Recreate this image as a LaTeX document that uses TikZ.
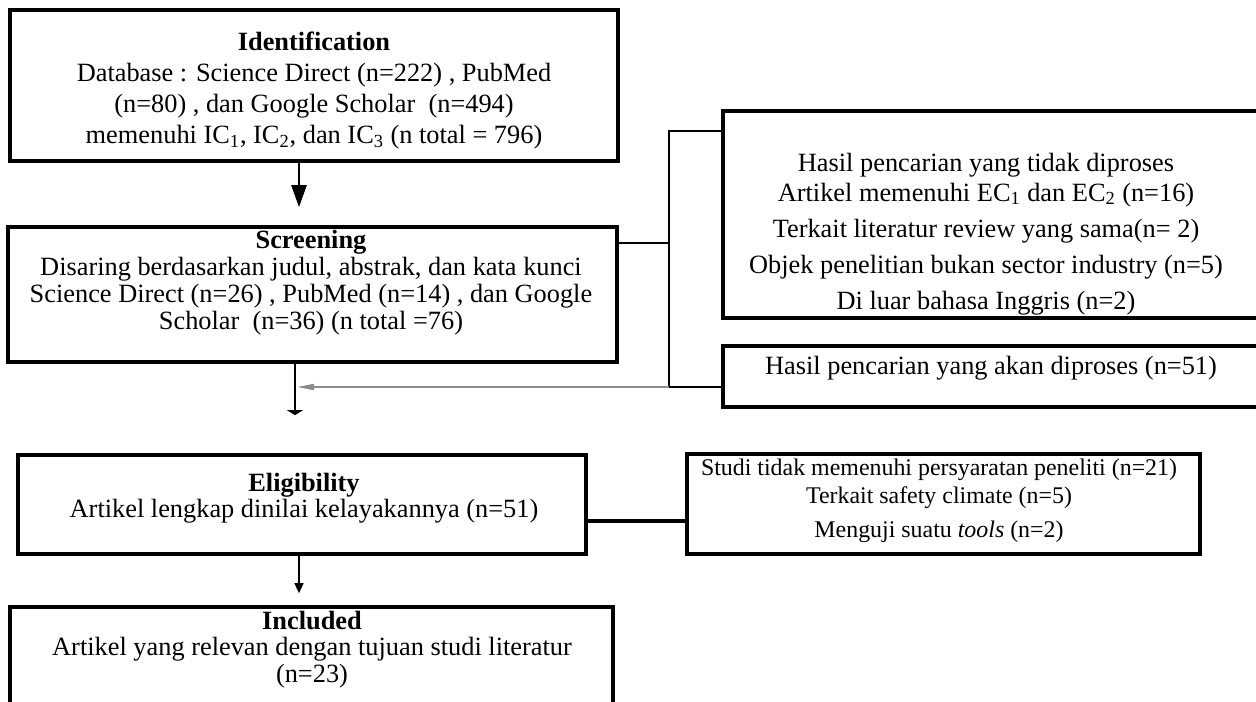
\documentclass[tikz,border=0pt]{standalone}
\usepackage{fontspec}
\setmainfont{Liberation Serif}
\usetikzlibrary{arrows.meta}

\tikzstyle{bk}=[draw,inner sep=0pt,line width=2.1pt]
\tikzstyle{tk}=[align=center,inner sep=0pt,anchor=north,font=\fontsize{15}{17.6}\selectfont]
\tikzstyle{ln}=[line width=1.1pt]
\tikzstyle{gl}=[draw=black!45,line width=1pt]
\def\px{0.02cm}

\begin{document}
\begin{tikzpicture}[x=\px,y=-\px]
			\useasboundingbox (0,0) rectangle (1256,702);
			% kotak utama
			\node[bk,line width=2.4pt,minimum width=608*\px,minimum height=151*\px] (ident) at (314,85.5) {};
			\node[bk,minimum width=609*\px,minimum height=135*\px] (screen) at (312.5,294.5) {};
			\node[bk,minimum width=568*\px,minimum height=99*\px] (elig) at (302,504.5) {};
			\node[bk,minimum width=603*\px,minimum height=130*\px] (incl) at (311.5,672) {};
			% kotak samping
			\node[bk,minimum width=560*\px,minimum height=207*\px] (excl) at (1003,214.5) {};
			\node[bk,minimum width=560*\px,minimum height=61*\px] (proc) at (1003,376.5) {};
			\node[bk,minimum width=513*\px,minimum height=100*\px] (eligx) at (943.5,504) {};
			% teks
			\node[tk] (identtx) at (314,32) {\textbf{Identification}\\
				Database : Science Direct (n=222) , PubMed\\
				(n=80) , dan Google Scholar\ \ (n=494)\\
				memenuhi\ IC\textsubscript{1}, IC\textsubscript{2}, dan IC\textsubscript{3} (n total = 796)};
			\node[tk,font=\fontsize{15}{15.3}\selectfont] (screentx) at (311,230) {\textbf{Screening}\\
				Disaring berdasarkan judul, abstrak, dan kata kunci\\
				Science Direct (n=26) , PubMed (n=14) , dan Google\\
				Scholar\ \ (n=36) (n total =76)};
			\node[tk,font=\fontsize{15}{17}\selectfont] (excltx) at (986,152.5) {Hasil pencarian yang tidak diproses\\
				Artikel memenuhi\ EC\textsubscript{1} dan EC\textsubscript{2} (n=16)\\[3.8pt]
				Terkait literatur review yang sama(n= 2)\\[3.4pt]
				Objek penelitian bukan sector industry (n=5)\\[3.8pt]
				Di luar bahasa Inggris (n=2)};
			\node[tk] (proctx) at (991,355.5) {Hasil pencarian yang akan diproses (n=51)};
			\node[tk,font=\fontsize{15}{13}\selectfont] (eligtx) at (304,473) {\textbf{Eligibility}\\
				Artikel lengkap dinilai kelayakannya (n=51)};
			\node[tk,font=\fontsize{13.6}{15.9}\selectfont] (eligxtx) at (939,459) {Studi tidak memenuhi persyaratan peneliti (n=21)\\
				Terkait safety climate (n=5)\\[3.4pt]
				Menguji suatu \textit{tools} (n=2)};
			\node[tk,font=\fontsize{15}{15}\selectfont] (incltx) at (312,611) {\textbf{Included}\\
				Artikel yang relevan dengan tujuan studi literatur\\
				(n=23)};
			% titik bantu
			\coordinate (ax) at (299,0);
			\coordinate (bx) at (295,0);
			\coordinate (brk) at (669,0);
			\coordinate (sy) at (0,243);
			\coordinate (ty) at (0,131);
			\coordinate (by) at (0,387);
			\coordinate (ey) at (0,521);
			% panah
			\draw[line width=1.5pt,-{Triangle[length=22*\px,width=15*\px]},shorten >=18*\px] (ident.south -| ax) -- (screen.north -| ax);
			\draw[line width=1.7pt,-{Triangle[length=5*\px,width=16*\px]},shorten >=38*\px] (screen.south -| bx) -- (elig.north -| bx);
			\draw[line width=0.8pt,-{Triangle[length=10*\px,width=9*\px]},shorten >=12*\px] (elig.south -| ax) -- (incl.north -| ax);
			\draw[ln] (screen.east |- sy) -- (brk |- sy);
			\draw[ln] (excl.west |- ty) -- (brk |- ty) -- (brk |- by) -- (proc.west |- by);
			\draw[gl,-{Triangle[length=17*\px,width=6*\px]},shorten >=2*\px] (brk |- by) -- (bx |- by);
			\draw[line width=1.8pt] (elig.east |- ey) -- (eligx.west |- ey);
		\end{tikzpicture}
\end{document}
